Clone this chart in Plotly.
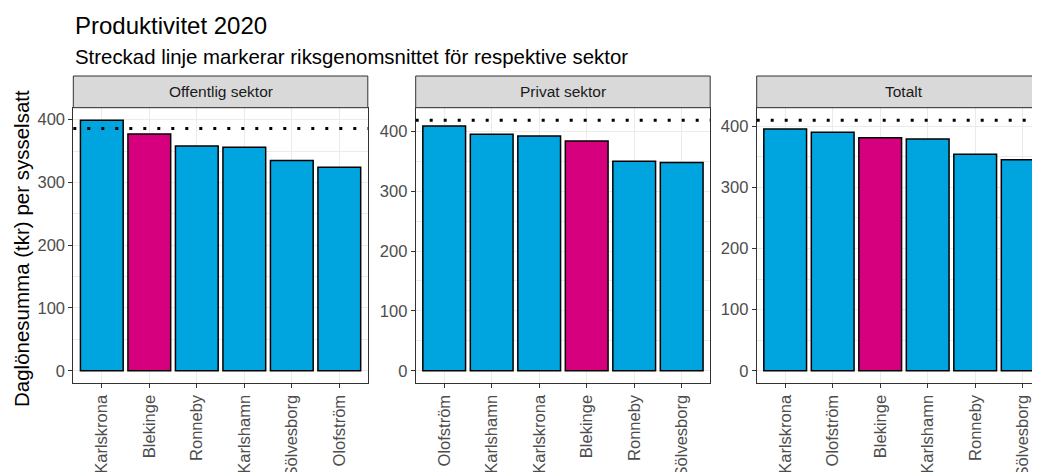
import plotly.graph_objects as go

# ---------------- data ----------------
sectors = ["Offentlig sektor", "Privat sektor", "Totalt"]

off_kommun = ["Karlskrona", "Blekinge", "Ronneby", "Karlshamn", "Sölvesborg", "Olofström"]
off_values = [399, 377, 358, 356, 335, 324]
off_avg = 386

priv_kommun = ["Olofström", "Karlshamn", "Karlskrona", "Blekinge", "Ronneby", "Sölvesborg"]
priv_values = [409, 395, 392, 384, 350, 348]
priv_avg = 418.5

tot_kommun = ["Karlskrona", "Olofström", "Blekinge", "Karlshamn", "Ronneby", "Sölvesborg"]
tot_values = [395, 390, 381, 379, 354, 345]
tot_avg = 409.5

title = "Produktivitet 2020"
subtitle = "Streckad linje markerar riksgenomsnittet för respektive sektor"
y_title = "Daglönesumma (tkr) per sysselsatt"
highlight = "Blekinge"

# ---------------- styling ----------------
WIN_W, WIN_H = 1040, 472
OFF = 8  # default page body margin
W, H = WIN_W - OFF, WIN_H - OFF
FONT = "Liberation Sans, Arial, sans-serif"
BLUE = "#00A5E0"
MAGENTA = "#D6007E"
GRID = "#ebebeb"
BORDER = "#333333"
STRIP_FILL = "#d9d9d9"

# panel geometry in window pixels
panel_left = [73.3, 415.7, 756.7]
panel_w = 294.5
plot_top, plot_bottom = 107.7, 383.3
strip_top = 76.0


def px_x(p):
    return (p - OFF) / W


def px_y(p):
    return 1 - (p - OFF) / H


panels = [
    (off_kommun, off_values, off_avg),
    (priv_kommun, priv_values, priv_avg),
    (tot_kommun, tot_values, tot_avg),
]

fig = go.Figure()
shapes = []
annotations = []

for i, (cats, vals, avg) in enumerate(panels):
    n = i + 1
    xa = "x" if n == 1 else f"x{n}"
    ya = "y" if n == 1 else f"y{n}"
    colors = [MAGENTA if c == highlight else BLUE for c in cats]
    fig.add_trace(go.Bar(
        x=cats, y=vals, xaxis=xa, yaxis=ya,
        marker=dict(color=colors, line=dict(color="black", width=1.5)),
        width=0.9, showlegend=False, hoverinfo="x+y",
    ))

    left = panel_left[i]
    right = min(left + panel_w, WIN_W)
    units_per_px = (len(cats) + 0.2) / panel_w
    x_lo = -0.6
    x_hi = x_lo + (right - left) * units_per_px

    M = max(max(vals), avg)
    y_range = [-0.05 * M, 1.05 * M]

    last = (n == 3)
    xkey = "xaxis" if n == 1 else f"xaxis{n}"
    ykey = "yaxis" if n == 1 else f"yaxis{n}"
    fig.update_layout(**{
        xkey: dict(
            domain=[px_x(left), min(px_x(right), 1.0)], anchor=ya,
            type="category", range=[x_lo, x_hi], automargin=False,
            tickangle=-90, ticks="outside", ticklen=4, tickwidth=1, tickcolor=BORDER,
            tickfont=dict(family=FONT, size=16.5, color="#4d4d4d"),
            showgrid=True, gridcolor=GRID, gridwidth=1,
            showline=True, linecolor=BORDER, linewidth=1, mirror=True,
            zeroline=False, fixedrange=True,
        ),
        ykey: dict(
            domain=[px_y(plot_bottom), px_y(plot_top)], anchor=xa,
            range=y_range, tickmode="linear", tick0=0, dtick=100, automargin=False,
            ticks="outside", ticklen=4, tickwidth=1, tickcolor=BORDER,
            tickfont=dict(family=FONT, size=16.5, color="#4d4d4d"),
            showgrid=True, gridcolor=GRID, gridwidth=1.2,
            minor=dict(dtick=50, tick0=0, showgrid=True, gridcolor=GRID, gridwidth=0.6, ticks=""),
            showline=True, linecolor=BORDER, linewidth=1, mirror=(not last),
            zeroline=False, fixedrange=True,
        ),
    })

    # national average dotted line
    shapes.append(dict(
        type="line", xref=f"{xa} domain", yref=ya, x0=0, x1=1, y0=avg, y1=avg,
        line=dict(color="black", width=3, dash="3px,11px"), layer="above",
    ))
    # strip
    shapes.append(dict(
        type="rect", xref="paper", yref="paper",
        x0=px_x(left), x1=px_x(left + panel_w), y0=px_y(plot_top), y1=px_y(strip_top),
        fillcolor=STRIP_FILL, line=dict(color=BORDER, width=1), layer="above",
    ))
    annotations.append(dict(
        text=sectors[i], xref="paper", yref="paper",
        x=px_x(left + panel_w / 2), y=px_y((strip_top + plot_top) / 2),
        xanchor="center", yanchor="middle", showarrow=False,
        font=dict(family=FONT, size=15.5, color="#1a1a1a"),
    ))

annotations += [
    dict(text=title, xref="paper", yref="paper", x=px_x(73), y=px_y(25),
         xanchor="left", yanchor="middle", showarrow=False,
         font=dict(family=FONT, size=24, color="black")),
    dict(text=subtitle, xref="paper", yref="paper", x=px_x(73), y=px_y(57),
         xanchor="left", yanchor="middle", showarrow=False,
         font=dict(family=FONT, size=20.4, color="black")),
    dict(text=y_title, xref="paper", yref="paper", x=px_x(21), y=px_y(249),
         xanchor="center", yanchor="middle", textangle=-90, showarrow=False,
         font=dict(family=FONT, size=20.5, color="black")),
]

fig.update_layout(
    width=W, height=H,
    margin=dict(l=0, r=0, t=0, b=0, autoexpand=False),
    paper_bgcolor="white", plot_bgcolor="white",
    shapes=shapes, annotations=annotations,
    bargap=0.1, font=dict(family=FONT),
)

fig.write_html("out.html", config={"displayModeBar": False})
